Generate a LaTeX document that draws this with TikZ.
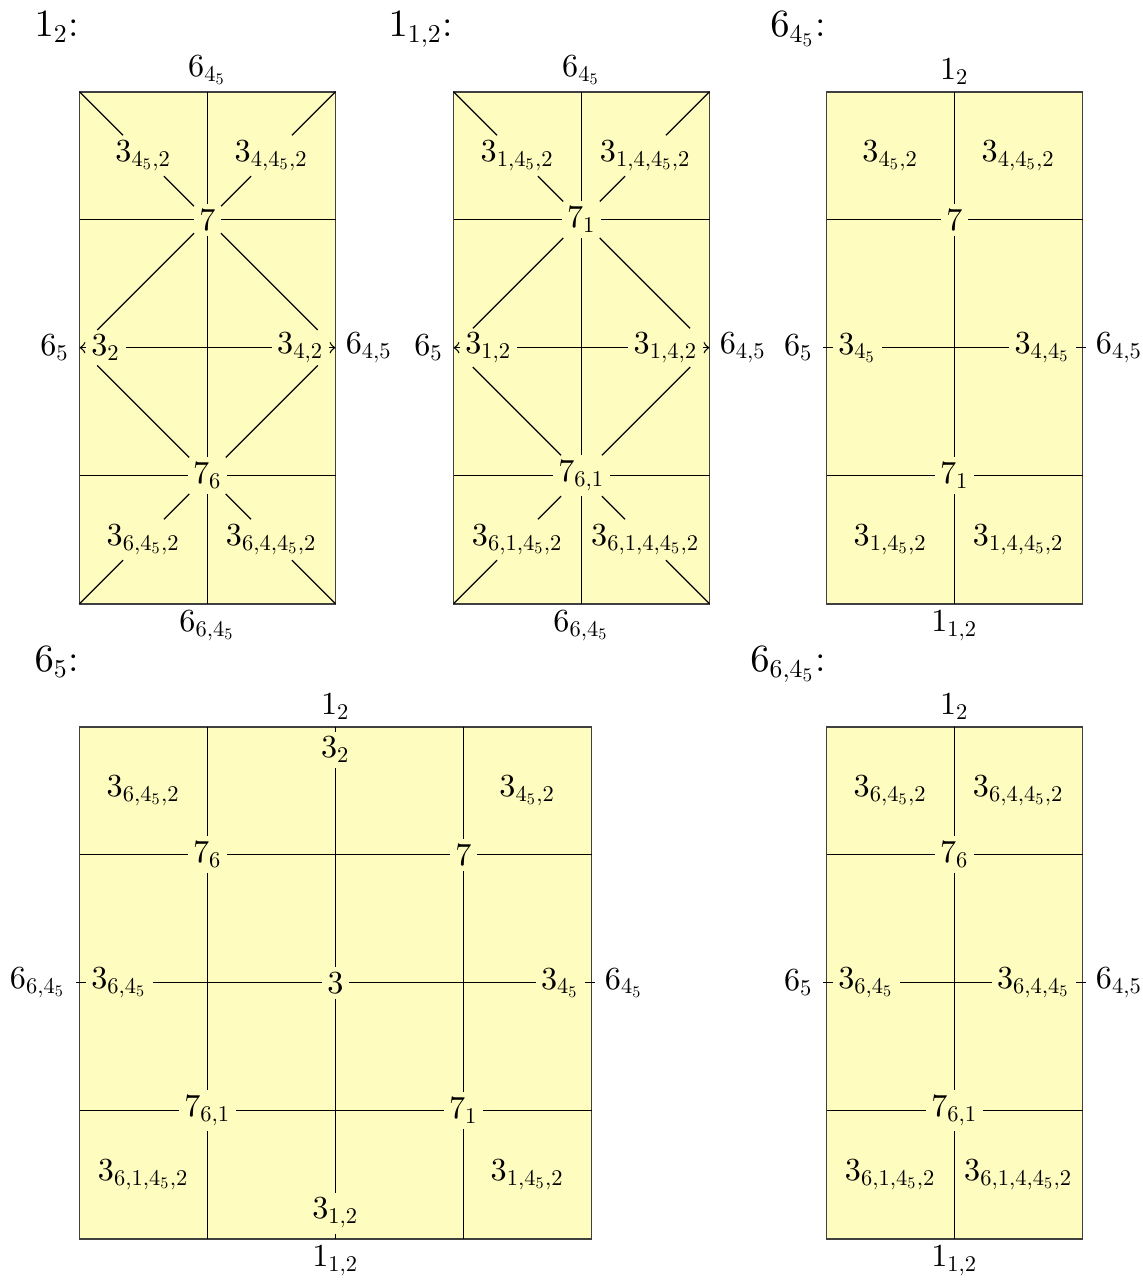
\documentclass[tikz,border=0pt]{standalone}
\DeclareFontFamily{OT1}{cmrx}{\hyphenchar\font45 }
\DeclareFontShape{OT1}{cmrx}{m}{n}{<-> cmr10}{}
\DeclareFontFamily{OML}{cmmx}{\skewchar\font127 }
\DeclareFontShape{OML}{cmmx}{m}{it}{<-> cmmi10}{}
\DeclareSymbolFont{operators}{OT1}{cmrx}{m}{n}
\DeclareSymbolFont{letters}{OML}{cmmx}{m}{it}
\begin{document}
\begin{tikzpicture}[x=1.4cm,y=1.4cm,
  panel/.style={fill=yellow!25, draw=black!75, line width=0.6pt},
  lab/.style={inner sep=1.5pt},
  sidelab/.style={inner xsep=3pt, inner ysep=1.5pt},
  toplab/.style={inner sep=2pt, anchor=south},
  botlab/.style={inner sep=2pt, anchor=north},
  ttl/.style={font=\large, anchor=base east, inner sep=0pt},
  ln/.style={line width=0.4pt},
  diagA/.style={line width=0.4pt, shorten >=0.275cm},
  diagB/.style={line width=0.4pt, shorten >=0.30cm},
  arr/.style={line width=0.4pt, ->}]
\useasboundingbox (0,0) rectangle (8.9297,10.0234);

% ---------------- Panel 1 : 1_2 ----------------
\begin{scope}[shift={(0.6211,5.307)}]
\draw[panel] (0,0) rectangle (2,4);
\coordinate (a00) at (0,0); \coordinate (a20) at (2,0);
\coordinate (a04) at (0,4); \coordinate (a24) at (2,4);
\coordinate (a03) at (0,3); \coordinate (a23) at (2,3);
\coordinate (a01) at (0,1); \coordinate (a21) at (2,1);
\coordinate (a14) at (1,4); \coordinate (a10) at (1,0);
\coordinate (a02) at (0,2); \coordinate (a22) at (2,2);
\node[ttl] (aN) at (0,4.43) {$1_2$:};
\node[toplab] (aT) at (1,4) {$6_{4_5}$};
\node[botlab] (aB) at (1,0) {$6_{6,4_5}$};
\node[sidelab, anchor=east] (aL) at (0,2) {$6_5$};
\node[sidelab, anchor=west] (aR) at (2,2) {$6_{4,5}$};
\node[lab] (a7) at (1,3) {$7$};
\node[lab] (a76) at (1,1) {$7_6$};
\node[lab, anchor=west] (aml) at (0.05,2) {$3_2$};
\node[lab, anchor=east] (amr) at (1.95,2) {$3_{4,2}$};
\node[lab] (atl) at (0.5,3.5) {$3_{4_5,2}$};
\node[lab] (atr) at (1.5,3.5) {$3_{4,4_5,2}$};
\node[lab] (abl) at (0.5,0.5) {$3_{6,4_5,2}$};
\node[lab] (abr) at (1.5,0.5) {$3_{6,4,4_5,2}$};
\draw[ln] (a04) -- (atl); \draw[ln] (a24) -- (atr);
\draw[ln] (a00) -- (abl); \draw[ln] (a20) -- (abr);
\draw[ln] (atl) -- (a7); \draw[ln] (atr) -- (a7);
\draw[ln] (abl) -- (a76); \draw[ln] (abr) -- (a76);
\draw[diagA] (a7) -- (a02); \draw[diagA] (a7) -- (a22);
\draw[diagA] (a76) -- (a02); \draw[diagA] (a76) -- (a22);
\draw[ln] (a03) -- (a7) -- (a23);
\draw[ln] (a01) -- (a76) -- (a21);
\draw[ln] (a14) -- (a7) -- (a76) -- (a10);
\draw[ln] (aml) -- (amr);
\draw[arr] (aml) -- (aL); \draw[arr] (amr) -- (aR);
\end{scope}

% ---------------- Panel 2 : 1_{1,2} ----------------
\begin{scope}[shift={(3.543,5.307)}]
\draw[panel] (0,0) rectangle (2,4);
\coordinate (b00) at (0,0); \coordinate (b20) at (2,0);
\coordinate (b04) at (0,4); \coordinate (b24) at (2,4);
\coordinate (b03) at (0,3); \coordinate (b23) at (2,3);
\coordinate (b01) at (0,1); \coordinate (b21) at (2,1);
\coordinate (b14) at (1,4); \coordinate (b10) at (1,0);
\coordinate (b02) at (0,2); \coordinate (b22) at (2,2);
\node[ttl] (bN) at (0,4.43) {$1_{1,2}$:};
\node[toplab] (bT) at (1,4) {$6_{4_5}$};
\node[botlab] (bB) at (1,0) {$6_{6,4_5}$};
\node[sidelab, anchor=east] (bL) at (0,2) {$6_5$};
\node[sidelab, anchor=west] (bR) at (2,2) {$6_{4,5}$};
\node[lab] (b7) at (1,3) {$7_1$};
\node[lab] (b76) at (1,1) {$7_{6,1}$};
\node[lab, anchor=west] (bml) at (0.05,2) {$3_{1,2}$};
\node[lab, anchor=east] (bmr) at (1.95,2) {$3_{1,4,2}$};
\node[lab] (btl) at (0.5,3.5) {$3_{1,4_5,2}$};
\node[lab] (btr) at (1.5,3.5) {$3_{1,4,4_5,2}$};
\node[lab] (bbl) at (0.5,0.5) {$3_{6,1,4_5,2}$};
\node[lab] (bbr) at (1.5,0.5) {$3_{6,1,4,4_5,2}$};
\draw[ln] (b04) -- (btl); \draw[ln] (b24) -- (btr);
\draw[ln] (b00) -- (bbl); \draw[ln] (b20) -- (bbr);
\draw[ln] (btl) -- (b7); \draw[ln] (btr) -- (b7);
\draw[ln] (bbl) -- (b76); \draw[ln] (bbr) -- (b76);
\draw[diagB] (b7) -- (b02); \draw[diagB] (b7) -- (b22);
\draw[diagB] (b76) -- (b02); \draw[diagB] (b76) -- (b22);
\draw[ln] (b03) -- (b7) -- (b23);
\draw[ln] (b01) -- (b76) -- (b21);
\draw[ln] (b14) -- (b7) -- (b76) -- (b10);
\draw[ln] (bml) -- (bmr);
\draw[arr] (bml) -- (bL); \draw[arr] (bmr) -- (bR);
\end{scope}

% ---------------- Panel 3 : 6_{4_5} ----------------
\begin{scope}[shift={(6.457,5.307)}]
\draw[panel] (0,0) rectangle (2,4);
\coordinate (c03) at (0,3); \coordinate (c23) at (2,3);
\coordinate (c01) at (0,1); \coordinate (c21) at (2,1);
\coordinate (c14) at (1,4); \coordinate (c10) at (1,0);
\node[ttl] (cN) at (0,4.43) {$6_{4_5}$:};
\node[toplab] (cT) at (1,4) {$1_2$};
\node[botlab] (cB) at (1,0) {$1_{1,2}$};
\node[sidelab, anchor=east] (cL) at (-0.025,2) {$6_5$};
\node[sidelab, anchor=west] (cR) at (2.025,2) {$6_{4,5}$};
\node[lab] (c7) at (1,3) {$7$};
\node[lab] (c71) at (1,1) {$7_1$};
\node[lab, anchor=west] (cml) at (0.05,2) {$3_{4_5}$};
\node[lab, anchor=east] (cmr) at (1.95,2) {$3_{4,4_5}$};
\node[lab] (ctl) at (0.5,3.5) {$3_{4_5,2}$};
\node[lab] (ctr) at (1.5,3.5) {$3_{4,4_5,2}$};
\node[lab] (cbl) at (0.5,0.5) {$3_{1,4_5,2}$};
\node[lab] (cbr) at (1.5,0.5) {$3_{1,4,4_5,2}$};
\draw[ln] (c03) -- (c7) -- (c23);
\draw[ln] (c01) -- (c71) -- (c21);
\draw[ln] (c14) -- (c7) -- (c71) -- (c10);
\draw[ln] (cL) -- (cml) -- (cmr) -- (cR);
\end{scope}

% ---------------- Panel 4 : 6_5 ----------------
\begin{scope}[shift={(0.6211,0.346)}]
\draw[panel] (0,0) rectangle (4,4);
\coordinate (d03) at (0,3); \coordinate (d43) at (4,3);
\coordinate (d01) at (0,1); \coordinate (d41) at (4,1);
\coordinate (d14) at (1,4); \coordinate (d10) at (1,0);
\coordinate (d24) at (2,4); \coordinate (d20) at (2,0);
\coordinate (d34) at (3,4); \coordinate (d30) at (3,0);
\node[ttl] (dN) at (0,4.43) {$6_5$:};
\node[toplab] (dT) at (2,4) {$1_2$};
\node[botlab] (dB) at (2,0) {$1_{1,2}$};
\node[sidelab, anchor=east] (dL) at (-0.025,2) {$6_{6,4_5}$};
\node[sidelab, anchor=west] (dR) at (4.025,2) {$6_{4_5}$};
\node[lab] (d76) at (1,3) {$7_6$};
\node[lab] (d7) at (3,3) {$7$};
\node[lab] (d761) at (1,1) {$7_{6,1}$};
\node[lab] (d71) at (3,1) {$7_1$};
\node[lab] (d3) at (2,2) {$3$};
\node[lab, anchor=north] (d32) at (2,3.96) {$3_2$};
\node[lab, anchor=south] (d312) at (2,0.04) {$3_{1,2}$};
\node[lab, anchor=west] (dml) at (0.05,2) {$3_{6,4_5}$};
\node[lab, anchor=east] (dmr) at (3.95,2) {$3_{4_5}$};
\node[lab] (dtl) at (0.5,3.5) {$3_{6,4_5,2}$};
\node[lab] (dtr) at (3.5,3.5) {$3_{4_5,2}$};
\node[lab] (dbl) at (0.5,0.5) {$3_{6,1,4_5,2}$};
\node[lab] (dbr) at (3.5,0.5) {$3_{1,4_5,2}$};
\draw[ln] (d03) -- (d76) -- (d7) -- (d43);
\draw[ln] (d01) -- (d761) -- (d71) -- (d41);
\draw[ln] (d14) -- (d76) -- (d761) -- (d10);
\draw[ln] (d34) -- (d7) -- (d71) -- (d30);
\draw[ln] (d24) -- (d32) -- (d3) -- (d312) -- (d20);
\draw[ln] (dL) -- (dml) -- (d3) -- (dmr) -- (dR);
\end{scope}

% ---------------- Panel 5 : 6_{6,4_5} ----------------
\begin{scope}[shift={(6.457,0.346)}]
\draw[panel] (0,0) rectangle (2,4);
\coordinate (e03) at (0,3); \coordinate (e23) at (2,3);
\coordinate (e01) at (0,1); \coordinate (e21) at (2,1);
\coordinate (e14) at (1,4); \coordinate (e10) at (1,0);
\node[ttl] (eN) at (0,4.43) {$6_{6,4_5}$:};
\node[toplab] (eT) at (1,4) {$1_2$};
\node[botlab] (eB) at (1,0) {$1_{1,2}$};
\node[sidelab, anchor=east] (eL) at (-0.025,2) {$6_5$};
\node[sidelab, anchor=west] (eR) at (2.025,2) {$6_{4,5}$};
\node[lab] (e76) at (1,3) {$7_6$};
\node[lab] (e761) at (1,1) {$7_{6,1}$};
\node[lab, anchor=west] (eml) at (0.05,2) {$3_{6,4_5}$};
\node[lab, anchor=east] (emr) at (1.95,2) {$3_{6,4,4_5}$};
\node[lab] (etl) at (0.5,3.5) {$3_{6,4_5,2}$};
\node[lab] (etr) at (1.5,3.5) {$3_{6,4,4_5,2}$};
\node[lab] (ebl) at (0.5,0.5) {$3_{6,1,4_5,2}$};
\node[lab] (ebr) at (1.5,0.5) {$3_{6,1,4,4_5,2}$};
\draw[ln] (e03) -- (e76) -- (e23);
\draw[ln] (e01) -- (e761) -- (e21);
\draw[ln] (e14) -- (e76) -- (e761) -- (e10);
\draw[ln] (eL) -- (eml) -- (emr) -- (eR);
\end{scope}
\end{tikzpicture}
\end{document}
